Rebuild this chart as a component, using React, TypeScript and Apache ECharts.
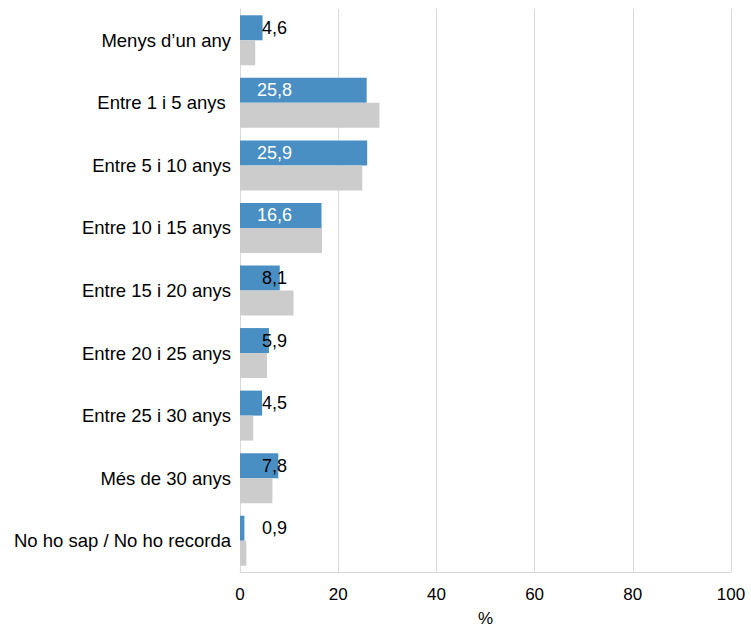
import React, { useEffect, useRef } from "react";
import * as echarts from "echarts";

const categories = [
  "Menys d’un any",
  "Entre 1 i 5 anys ",
  "Entre 5 i 10 anys",
  "Entre 10 i 15 anys",
  "Entre 15 i 20 anys",
  "Entre 20 i 25 anys",
  "Entre 25 i 30 anys",
  "Més de 30 anys",
  "No ho sap / No ho recorda",
];
const blueValues = [4.6, 25.8, 25.9, 16.6, 8.1, 5.9, 4.5, 7.8, 0.9];
const grayValues = [3.1, 28.4, 24.9, 16.7, 10.9, 5.5, 2.7, 6.6, 1.3];
const whiteLabelThreshold = 15;

const FONT = "'Liberation Sans', Arial, sans-serif";

export default function App() {
  const ref = useRef<HTMLDivElement>(null);
  useEffect(() => {
    if (!ref.current) return;
    const chart = echarts.init(ref.current, undefined, { renderer: "svg" });
    chart.setOption({
      animation: false,
      backgroundColor: "#ffffff",
      grid: {
        left: 240,
        right: 20,
        top: 9,
        bottom: 58,
        containLabel: false,
        outerBoundsMode: "none",
      },
      xAxis: {
        type: "value",
        min: 0,
        max: 100,
        interval: 20,
        name: "%",
        nameLocation: "middle",
        nameGap: 38,
        nameTextStyle: { color: "#000", fontSize: 17, fontFamily: FONT },
        axisLine: { show: true, lineStyle: { color: "#d9d9d9", width: 1 } },
        axisTick: { show: false },
        axisLabel: { color: "#000", fontSize: 17, fontFamily: FONT, margin: 14 },
        splitLine: { show: true, lineStyle: { color: "#d9d9d9", width: 1 } },
      },
      yAxis: {
        type: "category",
        data: categories,
        inverse: true,
        axisLine: { show: true, lineStyle: { color: "#d9d9d9", width: 1 } },
        axisTick: { show: false },
        axisLabel: { color: "#000", fontSize: 18.5, fontFamily: FONT, margin: 9 },
        splitLine: { show: false },
      },
      series: [
        {
          type: "bar",
          data: blueValues.map((v) => ({
            value: v,
            label: { color: v > whiteLabelThreshold ? "#ffffff" : "#000000" },
          })),
          barWidth: 25,
          barGap: "0%",
          itemStyle: { color: "#4A8FC3" },
          label: {
            show: true,
            position: [34.5, "50%"],
            align: "center",
            verticalAlign: "middle",
            fontSize: 18,
            fontFamily: FONT,
            formatter: (p: any) => String(p.value).replace(".", ","),
          },
        },
        {
          type: "bar",
          data: grayValues,
          barWidth: 25,
          barGap: "0%",
          itemStyle: { color: "#CCCCCC" },
        },
      ],
    });
    return () => chart.dispose();
  }, []);
  return (
    <div
      ref={ref}
      style={{ position: "absolute", left: 0, top: 0, width: 751, height: 630 }}
    />
  );
}
